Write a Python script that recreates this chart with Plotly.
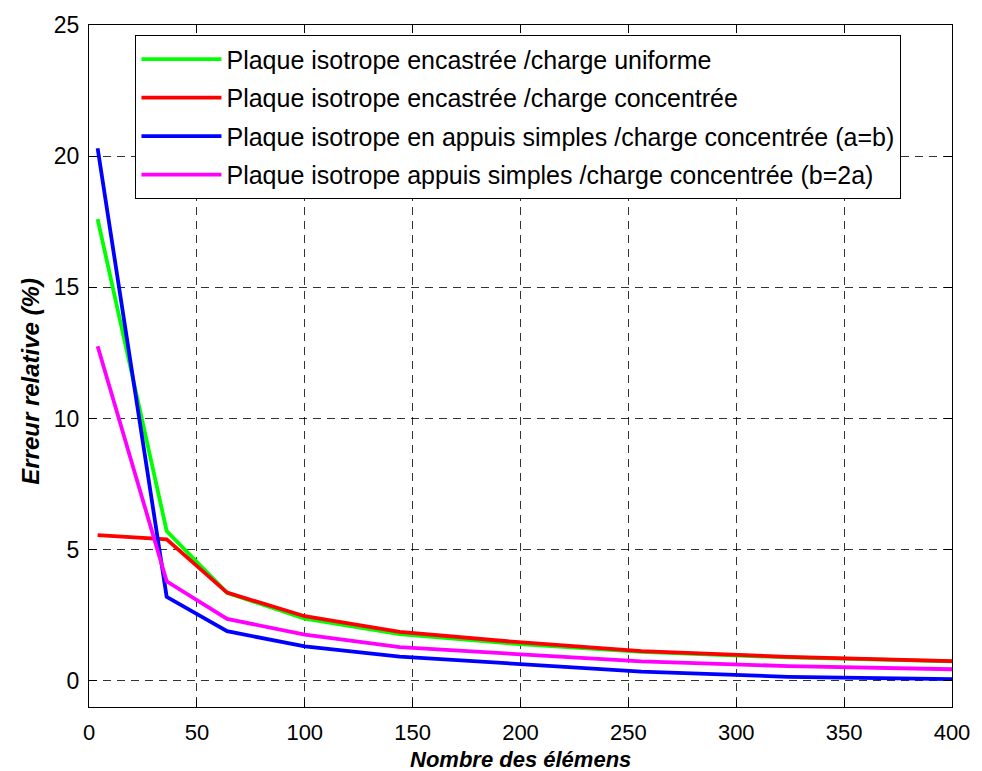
import plotly.graph_objects as go

# Data
elements = [4, 36, 64, 100, 144, 196, 256, 324, 400]
encastree_uniforme = [17.6, 5.71, 3.35, 2.37, 1.78, 1.42, 1.10, 0.89, 0.74]
encastree_concentree = [5.55, 5.39, 3.36, 2.46, 1.86, 1.49, 1.13, 0.91, 0.75]
appuis_ab = [20.3, 3.2, 1.89, 1.31, 0.92, 0.66, 0.35, 0.15, 0.06]
appuis_b2a = [12.75, 3.79, 2.36, 1.76, 1.28, 1.03, 0.74, 0.56, 0.44]

names = [
    "Plaque isotrope encastrée /charge uniforme",
    "Plaque isotrope encastrée /charge concentrée",
    "Plaque isotrope en appuis simples /charge concentrée (a=b)",
    "Plaque isotrope appuis simples /charge concentrée (b=2a)",
]
series = [encastree_uniforme, encastree_concentree, appuis_ab, appuis_b2a]
colors = ["#00ff00", "#ff0000", "#0000ff", "#ff00ff"]

x_ticks = [0, 50, 100, 150, 200, 250, 300, 350, 400]
y_ticks = [0, 5, 10, 15, 20, 25]

FONT = "Liberation Sans, Arial, Helvetica, sans-serif"

fig = go.Figure()
for i, (nm, ys, c) in enumerate(zip(names, series, colors)):
    fig.add_trace(go.Scatter(
        x=elements, y=ys, mode="lines", name=nm,
        line=dict(color=c, width=3.8),
        legendgroup=f"g{i}",
    ))

axis_common = dict(
    showline=True, linecolor="black", linewidth=1.2, mirror="ticks",
    ticks="inside", ticklen=8, tickcolor="black", tickwidth=1,
    showgrid=True, gridcolor="rgba(0,0,0,0.8)", gridwidth=1,
    griddash="8px,6px", zeroline=False,
)

fig.update_xaxes(range=[0, 400], tickvals=x_ticks, ticklabelstandoff=5,
                 tickfont=dict(family=FONT, size=22, color="black"), **axis_common)
fig.update_yaxes(range=[-1, 25], tickvals=y_ticks, ticklabelstandoff=4,
                 tickfont=dict(family=FONT, size=23, color="black"), **axis_common)

fig.update_layout(
    width=982, height=771,
    margin=dict(l=89, r=25, t=23, b=64),
    paper_bgcolor="white", plot_bgcolor="white",
    showlegend=True,
    legend=dict(
        x=0.0536, y=0.985, xanchor="left", yanchor="top",
        bordercolor="black", borderwidth=1.2, bgcolor="white",
        font=dict(family=FONT, size=25, color="black"),
        tracegroupgap=3, itemwidth=80,
    ),
    annotations=[
        dict(text="<b><i>Nombre des élémens</i></b>", xref="paper", yref="paper",
             x=0.5, y=-0.0765, xanchor="center", yanchor="middle", showarrow=False,
             font=dict(family=FONT, size=22, color="black")),
        dict(text="<b><i>Erreur relative (%)</i></b>", xref="paper", yref="paper",
             x=-0.0686, y=0.478, xanchor="center", yanchor="middle", showarrow=False,
             textangle=-90, font=dict(family=FONT, size=24, color="black")),
    ],
)

fig.write_html("out.html")
